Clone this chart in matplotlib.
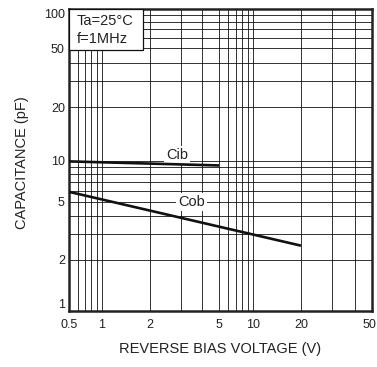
import numpy as np
import matplotlib
matplotlib.use("Agg")
import matplotlib.pyplot as plt
import matplotlib.transforms as mtransforms
from matplotlib.patches import Rectangle
from matplotlib.ticker import FixedLocator, NullFormatter

plt.rcParams['font.family'] = ['Liberation Sans', 'DejaVu Sans']

# data
cib_v = [0.5, 5]
cib_c = [9.85, 9.2]
cob_v = [0.5, 20]
cob_c = [5.9, 2.5]

x_major = [0.5, 1, 2, 5, 10, 20, 50]
x_minor = [0.6, 0.7, 0.8, 0.9, 3, 4, 6, 7, 8, 9, 30, 40]
y_major = [1, 2, 5, 10, 20, 50, 100]
y_minor = [3, 4, 6, 7, 8, 9, 30, 40, 60, 70, 80, 90]
x_labels = ['0.5', '1', '2', '5', '10', '20', '50']
y_labels = ['1', '2', '5', '10', '20', '50', '100']

# the printed graph paper is not quite logarithmic: relative spacing of the
# 1-2-5 decades as measured on the sheet
x_warp = [0, 33, 81, 150, 184, 232, 303]
y_warp = [0, 51, 109, 150, 203, 262, 301]


def extrap(x, xp, fp):
    y = np.interp(x, xp, fp)
    y = np.where(x < xp[0], fp[0] + (x - xp[0]) * (fp[1] - fp[0]) / (xp[1] - xp[0]), y)
    y = np.where(x > xp[-1], fp[-1] + (x - xp[-1]) * (fp[-1] - fp[-2]) / (xp[-1] - xp[-2]), y)
    return y


def warped(anchors, pos):
    la = np.log10(anchors)
    pos = np.asarray(pos, float)

    def fwd(v):
        v = np.clip(np.asarray(v, float), 1e-9, None)
        return extrap(np.log10(v), la, pos)

    def inv(p):
        return 10 ** extrap(np.asarray(p, float), pos, la)
    return fwd, inv


fig = plt.figure(figsize=(3.77, 3.67), dpi=100)
ax = fig.add_axes([69 / 377, 56 / 367, 303 / 377, 302 / 367])
ax.set_xscale('function', functions=warped(x_major, x_warp))
ax.set_yscale('function', functions=warped(y_major, y_warp))
ax.set_xlim(0.5, 50)
ax.set_ylim(1, 100)

ax.xaxis.set_major_locator(FixedLocator(x_major))
ax.xaxis.set_minor_locator(FixedLocator(x_minor))
ax.yaxis.set_major_locator(FixedLocator(y_major))
ax.yaxis.set_minor_locator(FixedLocator(y_minor))
ax.set_xticklabels(x_labels)
ax.set_yticklabels(y_labels)
ax.xaxis.set_minor_formatter(NullFormatter())
ax.yaxis.set_minor_formatter(NullFormatter())
ax.tick_params(which='both', length=0, labelsize=9, colors='#222222')
ax.tick_params(axis='x', pad=6)
ax.tick_params(axis='y', pad=3)
last = ax.get_xticklabels()[-1]
last.set_transform(last.get_transform() +
                   mtransforms.ScaledTranslation(-3 / 100, 0, fig.dpi_scale_trans))
ax.get_yticklabels()[0].set_va('bottom')
ax.get_yticklabels()[-1].set_va('top')

ax.set_axisbelow(True)
ax.grid(True, which='both', color='#111111', lw=0.6)
for s in ax.spines.values():
    s.set_linewidth(1.8)
    s.set_color('#222222')

ax.plot(cib_v, cib_c, color='#111111', lw=1.9, solid_capstyle='butt', zorder=3)
ax.plot(cob_v, cob_c, color='#111111', lw=1.9, solid_capstyle='butt', zorder=3)

lbl = dict(fontsize=10.5, color='#222222', ha='center', va='center', zorder=2,
           bbox=dict(facecolor='white', edgecolor='none', pad=1.5))
ax.text(2.86, 10.8, 'Cib', **lbl)
ax.text(3.47, 5.0, 'Cob', **lbl)

ax.add_patch(Rectangle((0, 1 - 41 / 302), 74 / 303, 41 / 302, transform=ax.transAxes,
                       facecolor='white', edgecolor='#111111', lw=0.9, zorder=4))
ax.text(0.026, 0.960, 'Ta=25°C', transform=ax.transAxes, fontsize=10.5,
        va='center', ha='left', color='#222222', zorder=5)
ax.text(0.026, 0.901, 'f=1MHz', transform=ax.transAxes, fontsize=10.5,
        va='center', ha='left', color='#222222', zorder=5)

fig.text(22 / 377, 0.557, 'CAPACITANCE (pF)', rotation=90, ha='center', va='center',
         fontsize=10.5, color='#222222')
fig.text(220 / 377, 18 / 367, 'REVERSE BIAS VOLTAGE (V)', ha='center', va='center',
         fontsize=10.5, color='#222222')

fig.savefig('out.png', dpi=100)
